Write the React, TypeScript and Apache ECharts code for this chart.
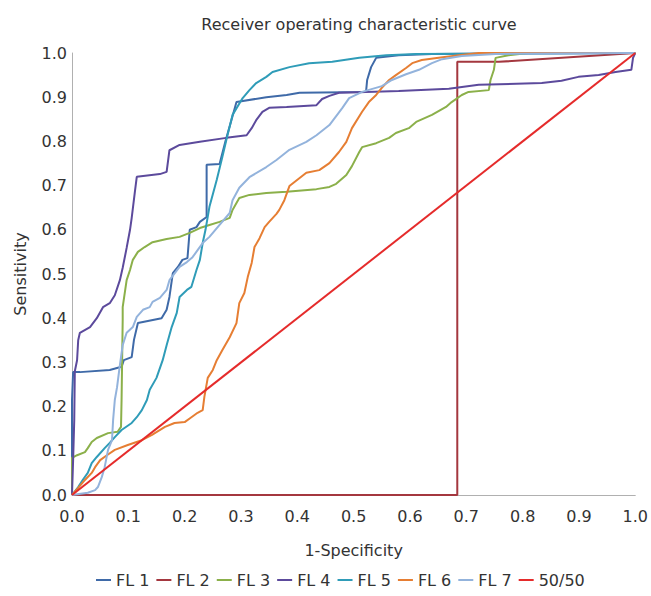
import React, { useEffect, useRef } from "react";
import * as echarts from "echarts";

const seriesNames = ["FL 1", "FL 2", "FL 3", "FL 4", "FL 5", "FL 6", "FL 7", "50/50"];
const seriesColors = ["#3f6aa8", "#a4373f", "#8bb04a", "#5c4a9c", "#2f9cb8", "#e67e33", "#93b3dc", "#e52b2b"];

const fl1: number[][] = [
  [0, 0], [0, 0.215], [0.002, 0.278], [0.014, 0.278], [0.067, 0.283], [0.088, 0.29], [0.092, 0.305],
  [0.106, 0.312], [0.11, 0.351], [0.117, 0.389], [0.159, 0.4], [0.168, 0.419], [0.173, 0.448],
  [0.179, 0.502], [0.188, 0.516], [0.196, 0.532], [0.205, 0.536], [0.209, 0.6], [0.221, 0.606],
  [0.227, 0.618], [0.239, 0.629], [0.239, 0.747], [0.262, 0.749], [0.273, 0.803], [0.283, 0.848],
  [0.292, 0.889], [0.345, 0.9], [0.381, 0.905], [0.404, 0.91], [0.522, 0.912], [0.524, 0.939],
  [0.531, 0.968], [0.54, 0.989], [0.58, 0.995], [0.639, 0.998], [1, 1],
];
const fl2: number[][] = [[0, 0], [0.684, 0], [0.684, 0.98], [0.758, 0.98], [1, 1]];
const fl3: number[][] = [
  [0, 0], [0, 0.084], [0.009, 0.09], [0.023, 0.097], [0.028, 0.106], [0.035, 0.12], [0.044, 0.129],
  [0.064, 0.14], [0.081, 0.143], [0.087, 0.154], [0.088, 0.215], [0.09, 0.396], [0.09, 0.425],
  [0.097, 0.486], [0.103, 0.509], [0.108, 0.532], [0.117, 0.55], [0.129, 0.561], [0.143, 0.572],
  [0.168, 0.579], [0.191, 0.584], [0.209, 0.593], [0.227, 0.604], [0.244, 0.611], [0.262, 0.618],
  [0.28, 0.627], [0.285, 0.645], [0.297, 0.672], [0.315, 0.679], [0.345, 0.683], [0.381, 0.686],
  [0.434, 0.692], [0.457, 0.697], [0.469, 0.704], [0.487, 0.724], [0.497, 0.744], [0.51, 0.776],
  [0.515, 0.787], [0.54, 0.796], [0.563, 0.808], [0.575, 0.819], [0.598, 0.83], [0.611, 0.844],
  [0.639, 0.86], [0.664, 0.878], [0.674, 0.889], [0.692, 0.905], [0.704, 0.912], [0.74, 0.916],
  [0.743, 0.939], [0.749, 0.962], [0.752, 0.989], [0.775, 0.995], [0.81, 1], [1, 1],
];
const fl4: number[][] = [
  [0, 0], [0.002, 0.08], [0.004, 0.17], [0.005, 0.28], [0.009, 0.305], [0.011, 0.35], [0.014, 0.367],
  [0.032, 0.38], [0.044, 0.4], [0.055, 0.425], [0.067, 0.434], [0.076, 0.452], [0.085, 0.486],
  [0.09, 0.514], [0.097, 0.559], [0.103, 0.6], [0.106, 0.627], [0.112, 0.69], [0.115, 0.72],
  [0.156, 0.726], [0.168, 0.731], [0.173, 0.78], [0.191, 0.792], [0.227, 0.799], [0.274, 0.808],
  [0.31, 0.814], [0.319, 0.83], [0.327, 0.848], [0.338, 0.867], [0.35, 0.876], [0.381, 0.878],
  [0.434, 0.882], [0.444, 0.896], [0.457, 0.903], [0.474, 0.91], [0.522, 0.912], [0.58, 0.914],
  [0.669, 0.919], [0.722, 0.928], [0.834, 0.932], [0.869, 0.937], [0.899, 0.946], [0.935, 0.95],
  [0.965, 0.957], [0.993, 0.962], [0.996, 0.989], [1, 1],
];
const fl5: number[][] = [
  [0, 0], [0.011, 0.018], [0.019, 0.034], [0.028, 0.05], [0.035, 0.072], [0.044, 0.086], [0.058, 0.106],
  [0.067, 0.118], [0.076, 0.131], [0.088, 0.147], [0.106, 0.163], [0.115, 0.176], [0.124, 0.192],
  [0.133, 0.215], [0.138, 0.238], [0.15, 0.265], [0.161, 0.305], [0.168, 0.339], [0.177, 0.38],
  [0.186, 0.412], [0.191, 0.448], [0.204, 0.464], [0.212, 0.471], [0.221, 0.509], [0.227, 0.532],
  [0.232, 0.57], [0.237, 0.6], [0.244, 0.652], [0.257, 0.713], [0.267, 0.765], [0.274, 0.803],
  [0.285, 0.86], [0.303, 0.898], [0.315, 0.916], [0.327, 0.932], [0.345, 0.946], [0.356, 0.957],
  [0.386, 0.968], [0.421, 0.977], [0.462, 0.98], [0.51, 0.989], [0.558, 0.995], [0.611, 0.998], [1, 1],
];
const fl6: number[][] = [
  [0, 0], [0.011, 0.016], [0.023, 0.034], [0.035, 0.05], [0.041, 0.063], [0.05, 0.079], [0.062, 0.09],
  [0.076, 0.102], [0.099, 0.113], [0.124, 0.124], [0.142, 0.136], [0.165, 0.154], [0.182, 0.163],
  [0.2, 0.165], [0.212, 0.176], [0.223, 0.186], [0.232, 0.192], [0.235, 0.222], [0.241, 0.265],
  [0.25, 0.283], [0.257, 0.305], [0.267, 0.328], [0.28, 0.357], [0.292, 0.389], [0.297, 0.434],
  [0.306, 0.457], [0.312, 0.493], [0.319, 0.525], [0.324, 0.561], [0.333, 0.581], [0.342, 0.606],
  [0.35, 0.618], [0.363, 0.636], [0.368, 0.645], [0.377, 0.667], [0.386, 0.699], [0.416, 0.729],
  [0.439, 0.735], [0.457, 0.751], [0.474, 0.776], [0.487, 0.799], [0.497, 0.83], [0.515, 0.867],
  [0.527, 0.889], [0.54, 0.905], [0.55, 0.921], [0.563, 0.939], [0.575, 0.95], [0.593, 0.966],
  [0.604, 0.977], [0.621, 0.984], [0.651, 0.989], [0.687, 0.995], [0.722, 1], [1, 1],
];
const fl7: number[][] = [
  [0, 0], [0.028, 0.005], [0.041, 0.011], [0.046, 0.018], [0.053, 0.041], [0.058, 0.063], [0.064, 0.102],
  [0.071, 0.124], [0.073, 0.17], [0.076, 0.215], [0.08, 0.244], [0.085, 0.294], [0.09, 0.339],
  [0.097, 0.367], [0.108, 0.38], [0.115, 0.403], [0.126, 0.419], [0.138, 0.425], [0.143, 0.437],
  [0.156, 0.446], [0.168, 0.464], [0.173, 0.486], [0.191, 0.516], [0.204, 0.527], [0.214, 0.538],
  [0.223, 0.554], [0.232, 0.57], [0.244, 0.584], [0.262, 0.611], [0.28, 0.638], [0.285, 0.667],
  [0.297, 0.695], [0.315, 0.719], [0.345, 0.742], [0.363, 0.758], [0.386, 0.781], [0.416, 0.799],
  [0.434, 0.814], [0.457, 0.837], [0.48, 0.876], [0.492, 0.898], [0.515, 0.912], [0.55, 0.925],
  [0.568, 0.939], [0.593, 0.952], [0.616, 0.962], [0.639, 0.977], [0.657, 0.986], [0.692, 0.993],
  [0.752, 0.998], [0.988, 1], [1, 1],
];
const ref5050: number[][] = [[0, 0], [1, 1]];

const seriesData = [fl1, fl2, fl3, fl4, fl5, fl6, fl7, ref5050];

export default function App() {
  const ref = useRef<HTMLDivElement>(null);
  useEffect(() => {
    if (!ref.current) return;
    const chart = echarts.init(ref.current, null, { renderer: "svg" });
    const font = "'DejaVu Sans', sans-serif";
    chart.setOption({
      animation: false,
      backgroundColor: "#ffffff",
      textStyle: { fontFamily: font },
      title: {
        text: "Receiver operating characteristic curve",
        left: 354,
        textAlign: "center",
        top: 11,
        textStyle: { fontFamily: font, fontSize: 16, fontWeight: "normal", color: "#333" },
      },
      legend: {
        left: 91,
        top: 567,
        itemWidth: 15,
        itemHeight: 2,
        itemGap: 7,
        icon: "rect",
        textStyle: { fontFamily: font, fontSize: 16, color: "#333" },
        data: seriesNames,
      },
      grid: { left: 72, right: 14, top: 53, bottom: 101, containLabel: false },
      xAxis: {
        type: "value",
        min: 0,
        max: 1,
        interval: 0.1,
        name: "1-Specificity",
        nameLocation: "middle",
        nameGap: 47,
        nameTextStyle: { fontFamily: font, fontSize: 16, color: "#333" },
        axisLine: { show: true, lineStyle: { color: "#b0b0b0", width: 1 } },
        axisTick: { show: false },
        splitLine: { show: false },
        axisLabel: {
          fontFamily: font,
          fontSize: 16,
          color: "#333",
          margin: 13,
          formatter: (v: number) => v.toFixed(1),
        },
      },
      yAxis: {
        type: "value",
        min: 0,
        max: 1,
        interval: 0.1,
        name: "Sensitivity",
        nameLocation: "middle",
        nameGap: 44,
        nameTextStyle: { fontFamily: font, fontSize: 16, color: "#333" },
        axisLine: { show: true, lineStyle: { color: "#b0b0b0", width: 1 } },
        axisTick: { show: false },
        splitLine: { show: false },
        axisLabel: {
          fontFamily: font,
          fontSize: 16,
          color: "#333",
          margin: 5,
          formatter: (v: number) => v.toFixed(1),
        },
      },
      series: seriesNames.map((name, i) => ({
        name,
        type: "line",
        data: seriesData[i],
        showSymbol: false,
        symbol: "none",
        color: seriesColors[i],
        lineStyle: { width: 2, color: seriesColors[i] },
        z: i === 7 ? 10 : 2 + i,
      })),
    });
    return () => chart.dispose();
  }, []);
  return (
    <div
      ref={ref}
      style={{ position: "fixed", left: 0, top: 0, width: 651, height: 596, background: "#fff" }}
    />
  );
}
